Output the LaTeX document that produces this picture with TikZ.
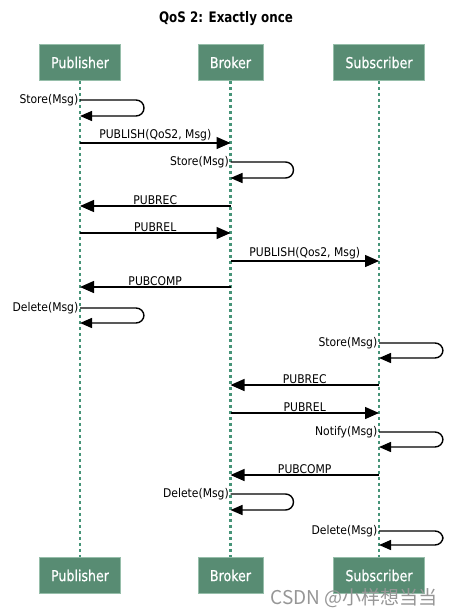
\documentclass[tikz,border=0pt]{standalone}
\usepackage{fontspec}
\setmainfont{DejaVu Sans}
\newfontfamily\cjk{Noto Sans CJK SC}
\newfontfamily\narrowfont[FakeStretch=0.84,FakeBold=0.6]{DejaVu Sans}
\newfontfamily\lblfont[FakeStretch=0.9]{DejaVu Sans}
\newfontfamily\titlefont[FakeStretch=0.82]{DejaVu Sans}
\usetikzlibrary{arrows.meta}
\definecolor{boxg}{RGB}{88,140,115}
\definecolor{boxedge}{RGB}{150,190,170}
\definecolor{lineg}{RGB}{70,148,120}
\definecolor{wmark}{RGB}{150,150,150}
\begin{document}
\begin{tikzpicture}[x=1pt,y=-1pt,
  actor/.style={fill=boxg, draw=boxedge, line width=0.6pt, text=white,
    font=\narrowfont\fontsize{15}{17}\selectfont, minimum height=36pt, inner sep=0pt},
  life/.style={lineg, line width=2.8pt, dash pattern=on 3pt off 3pt},
  msg/.style={line width=1.4pt, -{Triangle[length=14pt,width=12pt]}},
  selfmsg/.style={line width=1.4pt, rounded corners=8pt, -{Triangle[length=12pt,width=10pt]}},
  lbl/.style={font=\lblfont\fontsize{12}{14}\selectfont, inner sep=1pt},
]
\useasboundingbox (0,0) rectangle (452,616);

\node[font=\titlefont\bfseries\fontsize{14.5}{16}\selectfont] (title) at (226,19) {QoS 2: Exactly once};

\node[actor, minimum width=81pt] (pubT) at (80,62.5) {Publisher};
\node[actor, minimum width=65pt] (broT) at (230.5,62.5) {Broker};
\node[actor, minimum width=91pt] (subT) at (379,62.5) {Subscriber};
\node[actor, minimum width=81pt] (pubB) at (80,575.5) {Publisher};
\node[actor, minimum width=65pt] (broB) at (230.5,575.5) {Broker};
\node[actor, minimum width=91pt] (subB) at (379,575.5) {Subscriber};

\draw[life] (pubT.south) -- (pubB.north);
\draw[life] (broT.south) -- (broB.north);
\draw[life] (subT.south) -- (subB.north);

\def\xp{80}\def\xb{230.5}\def\xs{379}

% Publisher Store(Msg)
\coordinate (s1a) at (\xp,100); \coordinate (s1b) at (\xp,116);
\draw[selfmsg] (s1a) node[lbl,left]{Store(Msg)} -- ++(64,0) -- ++(0,16) -- (s1b);

% PUBLISH(QoS2, Msg)
\coordinate (m1a) at (\xp,143); \coordinate (m1b) at (\xb,143);
\draw[msg] (m1a) -- node[lbl,above]{PUBLISH(QoS2, Msg)} (m1b);

% Broker Store(Msg)
\coordinate (s2a) at (\xb,162); \coordinate (s2b) at (\xb,178);
\draw[selfmsg] (s2a) node[lbl,left]{Store(Msg)} -- ++(63,0) -- ++(0,16) -- (s2b);

% PUBREC
\coordinate (m2a) at (\xb,206); \coordinate (m2b) at (\xp,206);
\draw[msg] (m2a) -- node[lbl,above]{PUBREC} (m2b);

% PUBREL
\coordinate (m3a) at (\xp,233); \coordinate (m3b) at (\xb,233);
\draw[msg] (m3a) -- node[lbl,above]{PUBREL} (m3b);

% PUBLISH(Qos2, Msg)
\coordinate (m4a) at (\xb,261); \coordinate (m4b) at (\xs,261);
\draw[msg] (m4a) -- node[lbl,above]{PUBLISH(Qos2, Msg)} (m4b);

% PUBCOMP
\coordinate (m5a) at (\xb,287); \coordinate (m5b) at (\xp,287);
\draw[msg] (m5a) -- node[lbl,above]{PUBCOMP} (m5b);

% Publisher Delete(Msg)
\coordinate (s3a) at (\xp,308); \coordinate (s3b) at (\xp,323);
\draw[selfmsg] (s3a) node[lbl,left]{Delete(Msg)} -- ++(64,0) -- ++(0,15) -- (s3b);

% Subscriber Store(Msg)
\coordinate (s4a) at (\xs,343); \coordinate (s4b) at (\xs,358);
\draw[selfmsg] (s4a) node[lbl,left]{Store(Msg)} -- ++(64,0) -- ++(0,15) -- (s4b);

% PUBREC
\coordinate (m6a) at (\xs,385); \coordinate (m6b) at (\xb,385);
\draw[msg] (m6a) -- node[lbl,above]{PUBREC} (m6b);

% PUBREL
\coordinate (m7a) at (\xb,413); \coordinate (m7b) at (\xs,413);
\draw[msg] (m7a) -- node[lbl,above]{PUBREL} (m7b);

% Notify(Msg)
\coordinate (s5a) at (\xs,432); \coordinate (s5b) at (\xs,447);
\draw[selfmsg] (s5a) node[lbl,left]{Notify(Msg)} -- ++(64,0) -- ++(0,15) -- (s5b);

% PUBCOMP
\coordinate (m8a) at (\xs,475); \coordinate (m8b) at (\xb,475);
\draw[msg] (m8a) -- node[lbl,above]{PUBCOMP} (m8b);

% Broker Delete(Msg)
\coordinate (s6a) at (\xb,494); \coordinate (s6b) at (\xb,510);
\draw[selfmsg] (s6a) node[lbl,left]{Delete(Msg)} -- ++(63,0) -- ++(0,16) -- (s6b);

% Subscriber Delete(Msg)
\coordinate (s7a) at (\xs,531); \coordinate (s7b) at (\xs,545);
\draw[selfmsg] (s7a) node[lbl,left]{Delete(Msg)} -- ++(64,0) -- ++(0,14) -- (s7b);

\node[text=wmark, font=\cjk\fontsize{19}{21}\selectfont, anchor=east, inner sep=0pt] (wm) at (438,598) {CSDN @小样想当当};
\end{tikzpicture}
\end{document}
